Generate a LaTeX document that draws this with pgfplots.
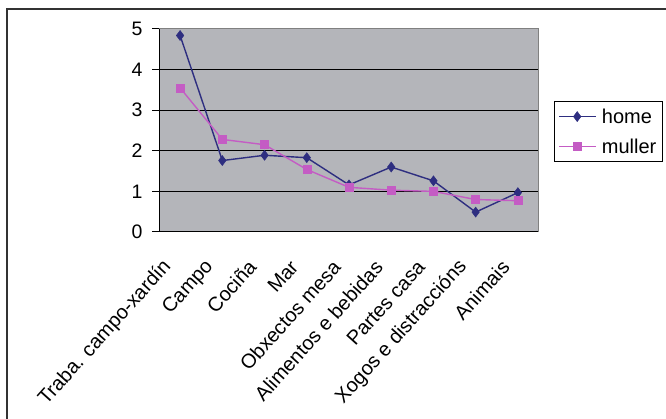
\documentclass[border=0pt]{standalone}
\usepackage{fontspec}
\setmainfont{Liberation Sans}
\usepackage{pgfplots}
\pgfplotsset{compat=1.18}
\definecolor{homec}{RGB}{46,46,128}
\definecolor{mullerc}{RGB}{196,92,196}
\definecolor{plotbg}{RGB}{180,181,186}
\definecolor{frameg}{RGB}{128,128,128}
\begin{document}
\begin{tikzpicture}[x=1pt,y=1pt]
\path[use as bounding box] (0,0) rectangle (666,419);
\draw[line width=1.5pt,color=black!80] (7,0) -- (7,410) -- (666,410);
\begin{axis}[
  at={(159pt,187pt)}, anchor=south west,
  scale only axis, width=380pt, height=203pt,
  font=\fontsize{19.5}{23}\selectfont,
  /pgf/number format/assume math mode=true,
  axis background/.style={fill=plotbg},
  xmin=0.5, xmax=9.5, ymin=0, ymax=5,
  axis x line*=bottom, axis y line*=left,
  axis line style={black, line width=1pt},
  ytick={0,1,2,3,4,5},
  ymajorgrids, major grid style={black, line width=1pt},
  tick align=outside,
  tick style={black, line width=1pt},
  major tick length=7pt,
  xtick={1,...,9},
  xticklabels={Traba. campo-xardín, Campo, Cociña, Mar, Obxectos mesa, Alimentos e bebidas, Partes casa, Xogos e distraccións, Animais},
  x tick style={draw=none},
  extra x ticks={0.5,1.5,...,9.5},
  extra x tick labels={},
  extra x tick style={tick style={black, line width=1pt}, major tick length=7pt},
  xticklabel style={font=\fontsize{20}{23}\selectfont, xshift=-10pt, yshift=-22pt, rotate=48, anchor=east},
  yticklabel style={xshift=-6pt},
  legend style={at={(1.0395,0.645)}, anchor=north west, draw=black, line width=1pt, fill=white,
    font=\fontsize{20}{23}\selectfont, inner xsep=4pt, inner ysep=5pt,
    row sep=10pt, /tikz/every odd column/.append style={column sep=3pt}},
  legend cell align=left,
  legend image code/.code={\draw[mark repeat=2,mark phase=2,#1] plot coordinates {(0pt,0pt) (18pt,0pt) (37pt,0pt)};},
  after end axis/.code={\draw[frameg, line width=1pt] (rel axis cs:0,1) -- (rel axis cs:1,1) -- (rel axis cs:1,0);},
]
\addplot[homec, line width=1.4pt, mark=diamond*, mark size=5pt, mark options={fill=homec, draw=homec, line width=0.5pt}]
  coordinates {(1,4.84) (2,1.76) (3,1.89) (4,1.83) (5,1.16) (6,1.60) (7,1.26) (8,0.49) (9,0.97)};
\addlegendentry{home}
\addplot[mullerc, line width=1.4pt, mark=square*, mark size=4pt, mark options={fill=mullerc, draw=mullerc, line width=0.5pt}]
  coordinates {(1,3.55) (2,2.28) (3,2.15) (4,1.54) (5,1.10) (6,1.03) (7,1.00) (8,0.80) (9,0.77)};
\addlegendentry{muller}
\end{axis}
\end{tikzpicture}
\end{document}
